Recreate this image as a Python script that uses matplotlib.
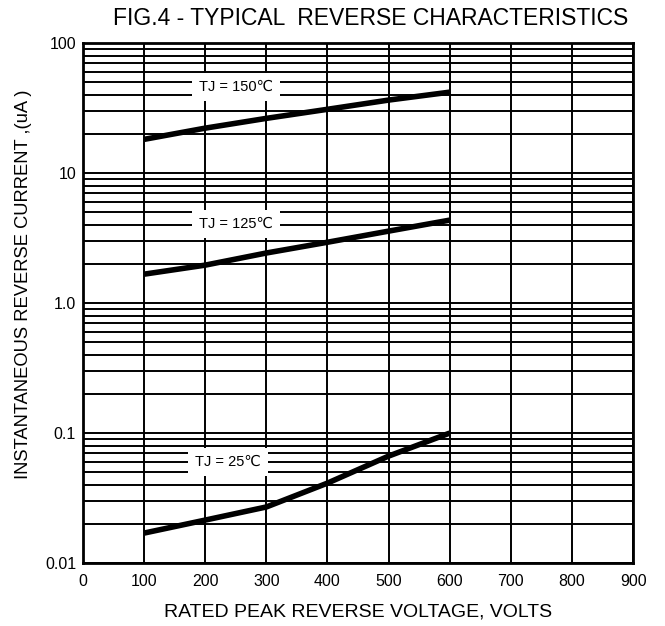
import numpy as np
import matplotlib
matplotlib.use("Agg")
import matplotlib.pyplot as plt

plt.rcParams['font.family'] = ['Liberation Sans', 'DejaVu Sans']

# data
volts = [100, 200, 300, 400, 500, 600]
ir_150 = [18.2, 22.2, 26.4, 31.0, 36.5, 42.0]
ir_125 = [1.67, 1.96, 2.43, 2.94, 3.58, 4.35]
ir_25 = [0.017, 0.0214, 0.027, 0.0412, 0.0665, 0.10]

labels = ["TJ = 150\u2103", "TJ = 125\u2103", "TJ = 25\u2103"]
label_x = [250, 250, 237]
label_y = [45.9, 4.05, 0.06]

xticks = [0, 100, 200, 300, 400, 500, 600, 700, 800, 900]
yticks = [0.01, 0.1, 1, 10, 100]
ytick_labels = ["0.01", "0.1", "1.0", "10", "100"]

fig = plt.figure(figsize=(6.65, 6.26), dpi=100)
ax = fig.add_axes([0.1248, 0.1006, 0.952 - 0.1248, 0.931 - 0.1006])

ax.set_yscale('log')
ax.set_xlim(0, 900)
ax.set_ylim(0.01, 100)

ax.set_xticks(xticks)
ax.set_xticklabels([str(v) for v in xticks], fontsize=11.5)
ax.set_yticks(yticks)
ax.set_yticklabels(ytick_labels, fontsize=11.5)
ax.yaxis.set_minor_locator(matplotlib.ticker.LogLocator(base=10, subs=np.arange(2, 10)))
ax.yaxis.set_minor_formatter(matplotlib.ticker.NullFormatter())
ax.tick_params(which='both', length=0)
ax.tick_params(axis='x', pad=8)
ax.tick_params(axis='y', pad=5)

ax.grid(True, which='major', axis='both', color='black', lw=1.4)
ax.grid(True, which='minor', axis='y', color='black', lw=1.4)
for s in ax.spines.values():
    s.set_linewidth(2)

for ys in (ir_150, ir_125, ir_25):
    ax.plot(volts, ys, color='black', lw=4, solid_capstyle='butt', zorder=3)

for t, x, y in zip(labels, label_x, label_y):
    ax.text(x, y, t, ha='center', va='center', fontsize=10.5, zorder=4,
            bbox=dict(facecolor='white', edgecolor='none', pad=5))

fig.text(0.558, 0.971, "FIG.4 - TYPICAL  REVERSE CHARACTERISTICS",
         ha='center', va='center', fontsize=16.5)
ax.set_xlabel("RATED PEAK REVERSE VOLTAGE, VOLTS", fontsize=14, labelpad=10)
fig.text(0.036, 0.5455, "INSTANTANEOUS REVERSE CURRENT ,(uA )", rotation=90,
         ha='center', va='center', fontsize=13.2)

fig.savefig("out.png", dpi=100)
